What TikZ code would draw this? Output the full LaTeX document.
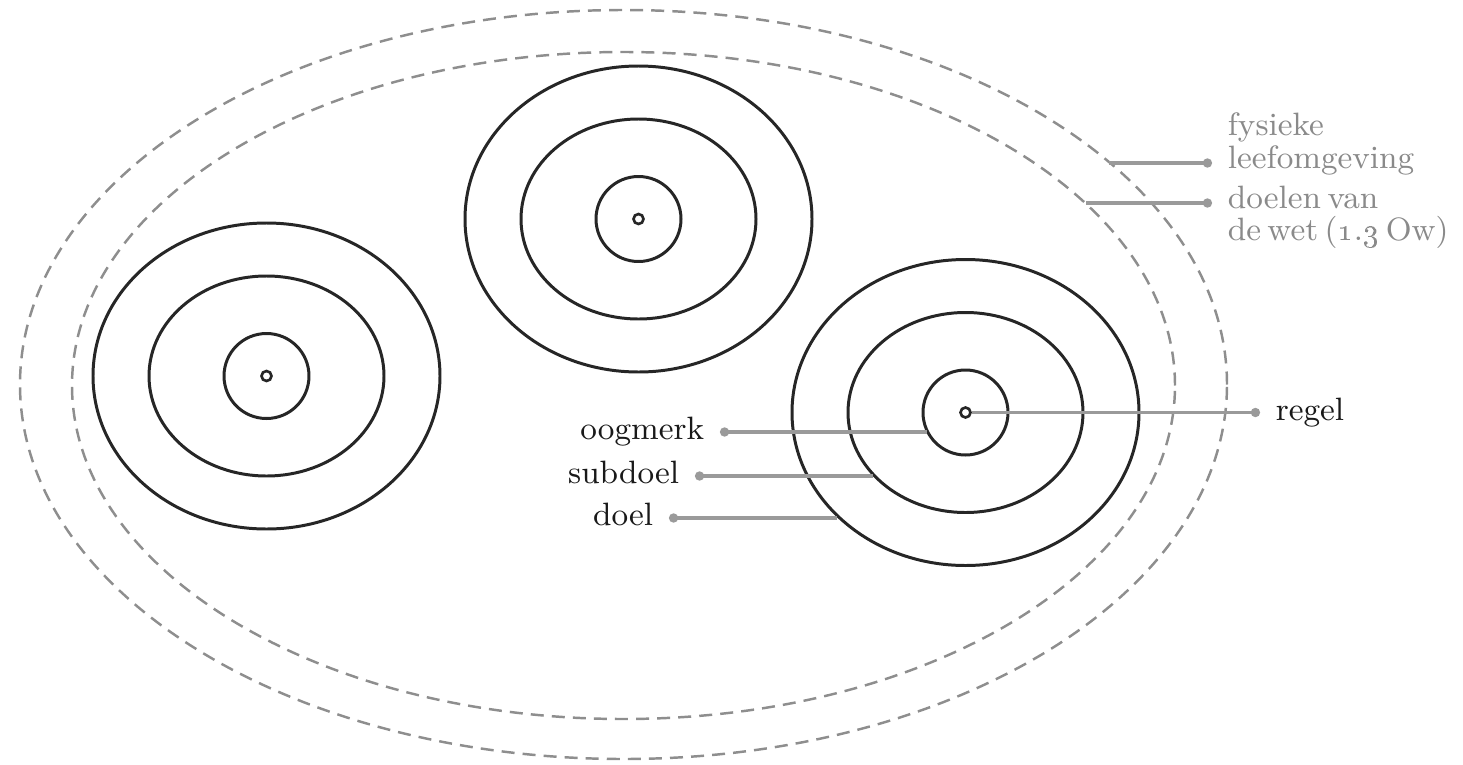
\documentclass[tikz,border=0pt]{standalone}
\usetikzlibrary{arrows.meta}

\definecolor{leadgray}{HTML}{9A9A9A}
\definecolor{zonegray}{HTML}{8E8E8E}
\definecolor{textgray}{HTML}{8A8A8A}

\newcommand{\ws}{\hspace{0.2em}}

\tikzset{
  ring/.style={draw=black!85, line width=0.85pt},
  hole/.style={circle, draw=black!85, line width=0.75pt, inner sep=0pt, minimum size=0.1cm},
  zone/.style={draw=zonegray, line width=0.7pt, dash pattern=on 3.7pt off 2.3pt},
  leader/.style={draw=leadgray, line width=0.95pt},
  dotstart/.style={{Circle[length=2.6pt]}-},
  dotend/.style={-{Circle[length=2.6pt]}},
  lbl/.style={font=\fontsize{9.2}{9.2}\selectfont, text=black!90, inner sep=4.3pt, text height=6.3pt, text depth=1.8pt},
  glbl/.style={font=\fontsize{9.2}{9.2}\selectfont, text=textgray, inner sep=4.3pt, align=left}
}

\begin{document}
\begin{tikzpicture}
  \useasboundingbox (0,0) rectangle (14.63,7.64);
  \draw [zone] (6.235,3.795) ellipse (6.035 and 3.745);
  \draw [zone] (6.235,3.785) ellipse (5.515 and 3.335);

  \draw [ring] (2.665,3.88) ellipse (1.735 and 1.53);
  \draw [ring] (2.665,3.88) ellipse (1.175 and 1.0);
  \draw [ring] (2.665,3.88) circle (0.425);
  \node [hole] (l0) at (2.665,3.88) {};

  \draw [ring] (6.385,5.45) ellipse (1.735 and 1.53);
  \draw [ring] (6.385,5.45) ellipse (1.175 and 1.0);
  \draw [ring] (6.385,5.45) circle (0.425);
  \node [hole] (t0) at (6.385,5.45) {};

  \draw [ring] (9.655,3.515) ellipse (1.735 and 1.53);
  \draw [ring] (9.655,3.515) ellipse (1.175 and 1.0);
  \draw [ring] (9.655,3.515) circle (0.425);
  \node [hole] (r0) at (9.655,3.515) {};

  % labels
  \node [lbl, anchor=east] (oogmerk) at (7.20,3.32) {oogmerk};
  \node [lbl, anchor=east] (subdoel) at (6.95,2.88) {subdoel};
  \node [lbl, anchor=east] (doel) at (6.69,2.46) {doel};
  \node [lbl, anchor=west] (regel) at (12.60,3.515) {regel};
  \node [glbl, anchor=west] (fysiek) at (12.12,6.20) {fysieke\\leefomgeving};
  \node [glbl, anchor=west] (wet) at (12.12,5.47) {doelen\ws van\\de\ws wet\ws(\oldstylenums{1}.\oldstylenums{3}\ws Ow)};

  \coordinate (oogmerk-end) at (9.27,3.32);
  \coordinate (subdoel-end) at (8.73,2.88);
  \coordinate (doel-end) at (8.37,2.46);
  \coordinate (fysiek-start) at (11.09,6.01);
  \coordinate (wet-start) at (10.86,5.61);

  \draw [leader, dotstart] (oogmerk) -- (oogmerk-end);
  \draw [leader, dotstart] (subdoel) -- (subdoel-end);
  \draw [leader, dotstart] (doel) -- (doel-end);
  \draw [leader, dotend] (r0) -- (regel);
  \draw [leader, dotend] (fysiek-start) -- (fysiek-start -| fysiek.west);
  \draw [leader, dotend] (wet-start) -- (wet-start -| wet.west);
\end{tikzpicture}
\end{document}
